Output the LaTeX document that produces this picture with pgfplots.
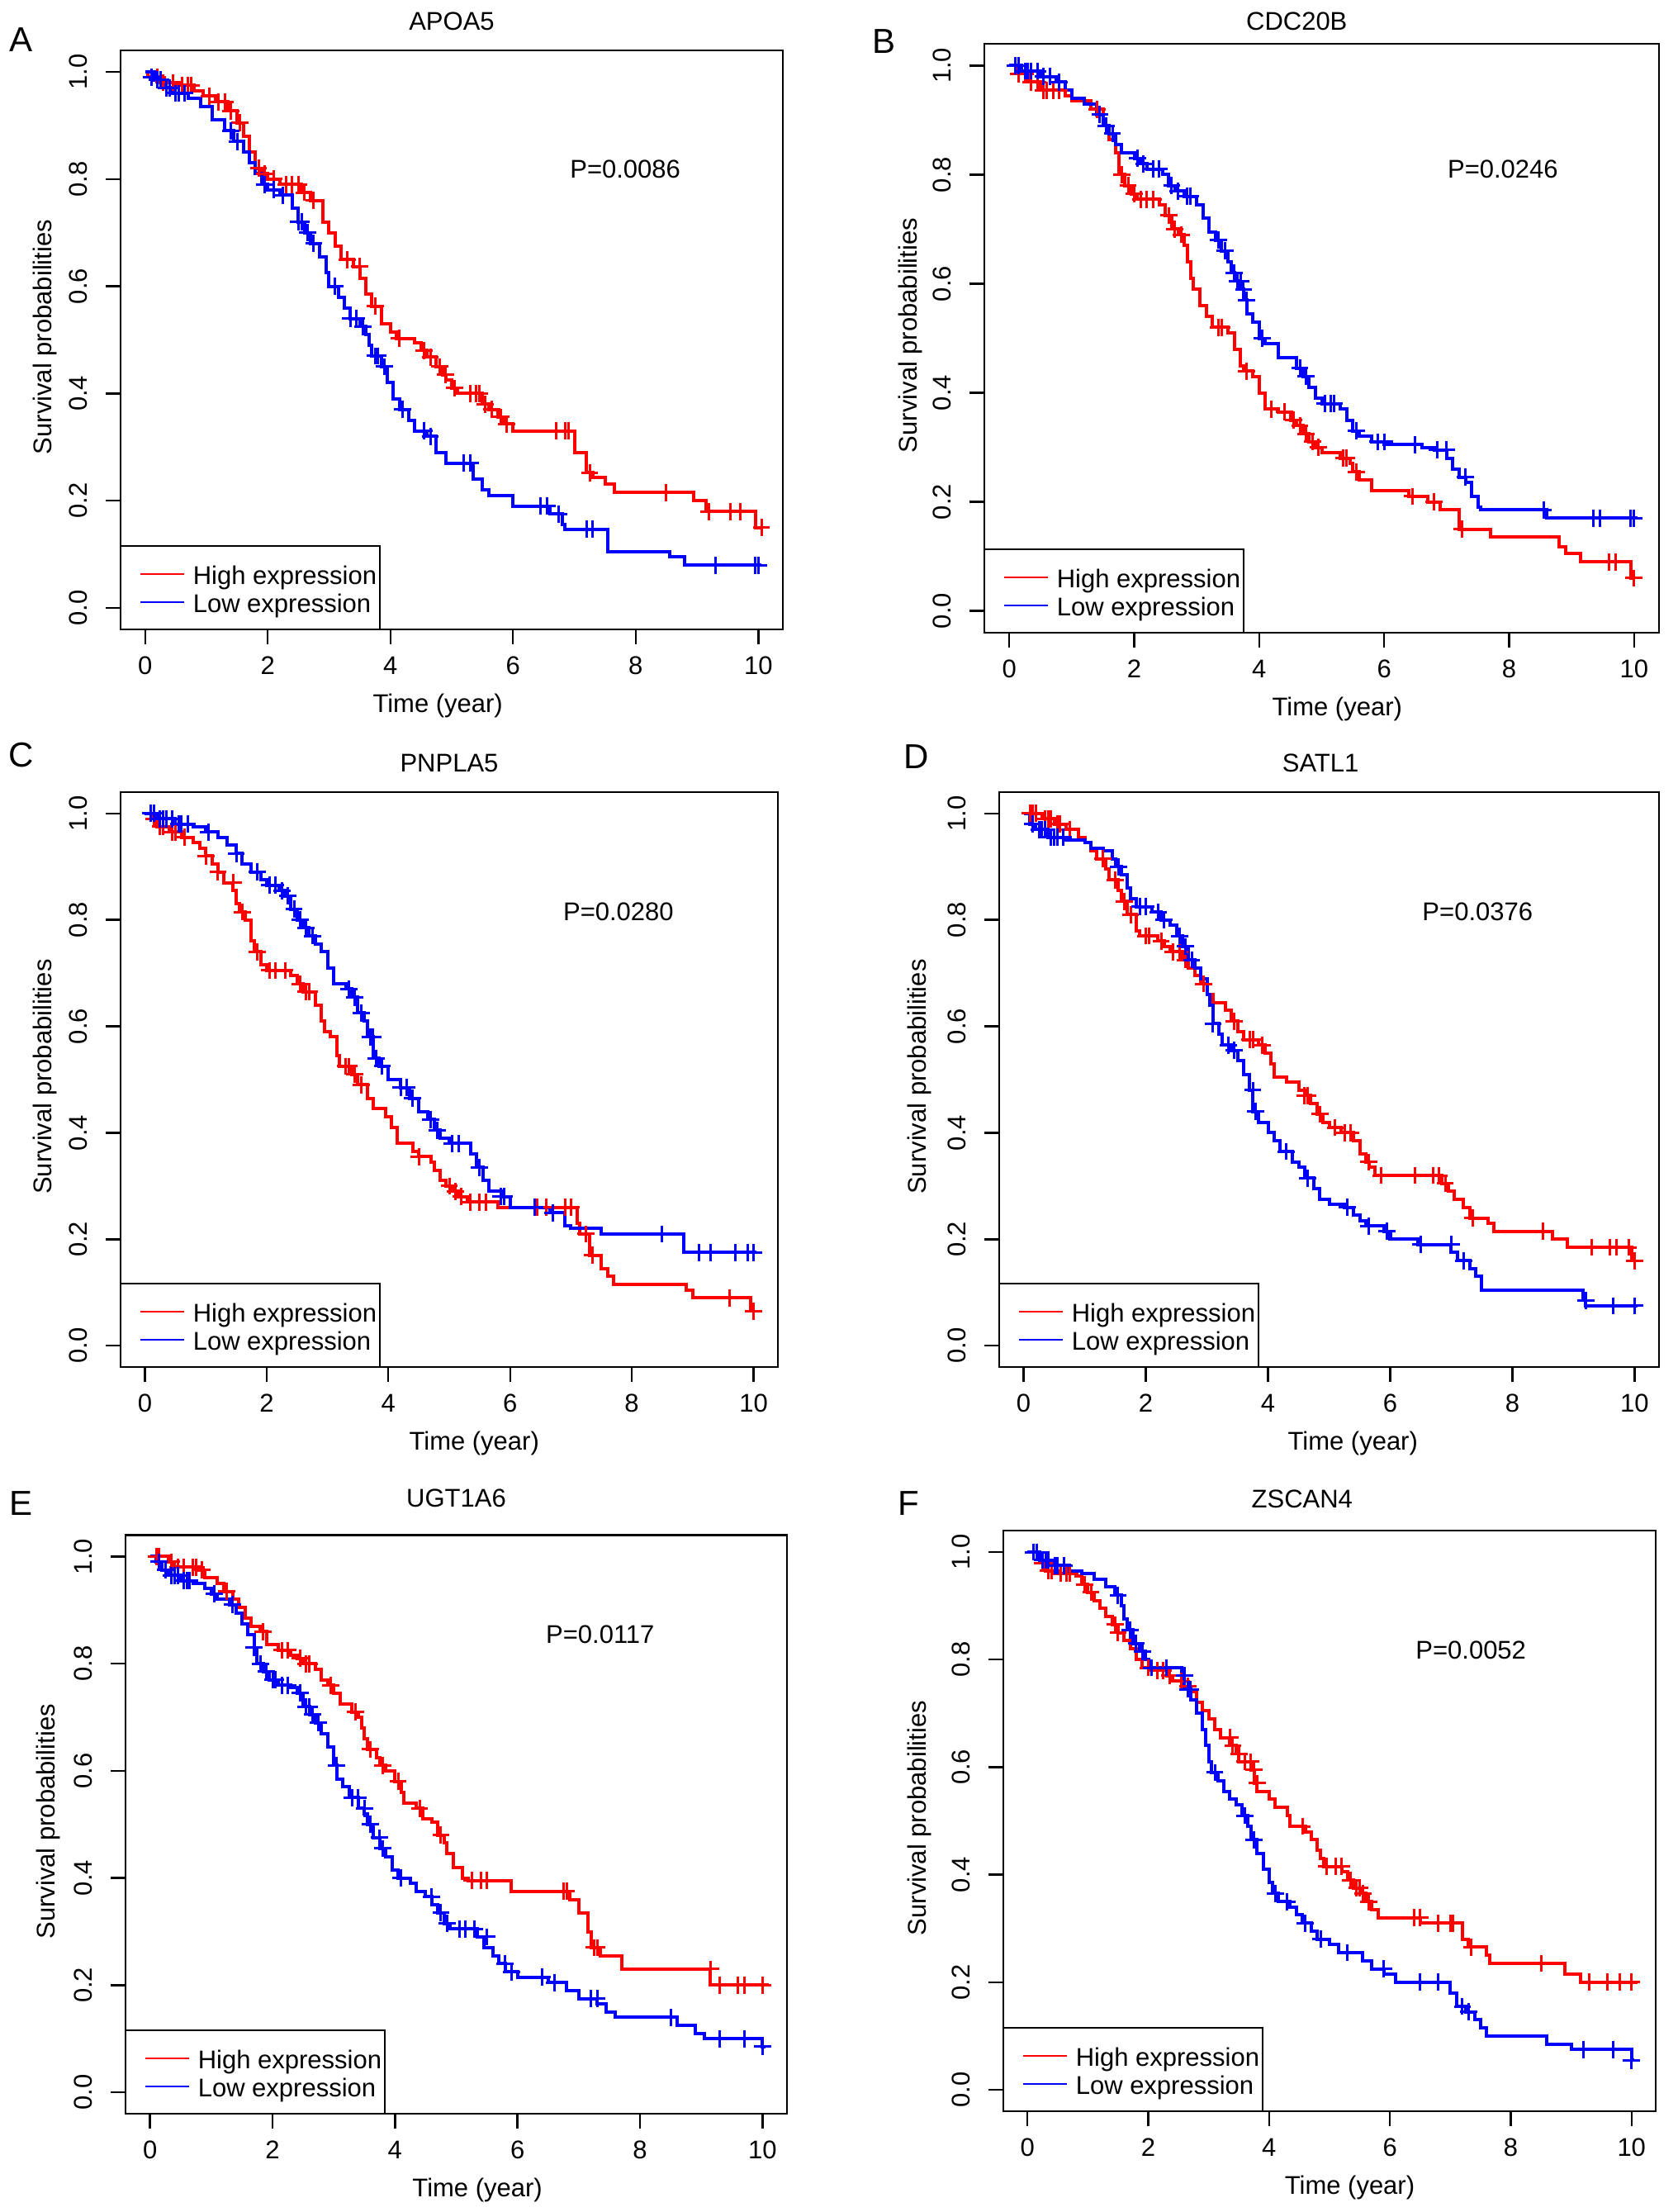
\documentclass[border=0pt]{standalone}
\usepackage{fontspec}
\setmainfont{Liberation Sans}
\usepackage{pgfplots}
\pgfplotsset{compat=1.18}

\newcommand{\kmfont}{\fontsize{7.75}{9.3}\selectfont}
\newcommand{\letterfont}{\fontsize{10.5}{12.6}\selectfont}

% legend box drawn in the lower left corner of each panel
\newcommand{\kmlegend}{%
  \draw[black, line width=0.6pt] (rel axis cs:0,0) rectangle ([xshift=78.5pt,yshift=25.25pt]rel axis cs:0,0);
  \draw[red, line width=0.55pt] ([xshift=6pt,yshift=16.75pt]rel axis cs:0,0) -- ++(13.25pt,0pt);
  \draw[blue, line width=0.55pt] ([xshift=6pt,yshift=8.25pt]rel axis cs:0,0) -- ++(13.25pt,0pt);
  \node[anchor=base west, inner sep=0pt, font=\kmfont] at ([xshift=21.75pt,yshift=13.75pt]rel axis cs:0,0) {High expression};
  \node[anchor=base west, inner sep=0pt, font=\kmfont] at ([xshift=21.75pt,yshift=5.25pt]rel axis cs:0,0) {Low expression};
}

\pgfplotsset{
  km/.style={
    anchor=north west, scale only axis,
    xmin=-0.4, xmax=10.4, ymin=-0.04, ymax=1.04,
    xtick={0,2,4,6,8,10}, ytick={0,0.2,0.4,0.6,0.8,1},
    tick align=outside, tick pos=left, major tick length=4.5pt,
    axis line style={line width=0.6pt, black},
    every tick/.style={black, line width=0.6pt},
    /pgf/number format/assume math mode=true,
    tick label style={font=\kmfont, inner sep=0pt},
    xticklabel style={anchor=north, yshift=-3.5pt},
    yticklabel style={/pgf/number format/fixed, /pgf/number format/fixed zerofill,
      /pgf/number format/precision=1, xshift=-5.25pt, rotate=90, anchor=south},
    xlabel={Time (year)}, ylabel={Survival probabilities},
    every axis x label/.style={at={(axis description cs:0.5,0)}, anchor=base, yshift=-25pt, inner sep=0pt, font=\kmfont},
    every axis title/.style={at={(axis description cs:0.5,1)}, anchor=base, inner sep=0pt, font=\kmfont},
  },
  kmylab/.style={every axis y label/.style={at={(axis description cs:0,0.505)}, xshift=-#1, rotate=90, anchor=base, inner sep=0pt, font=\kmfont}},
  kmline/.style={const plot, no marks, line width=1pt},
  kmcens/.style={only marks, mark=+, mark size=2.6pt, mark options={line width=0.75pt}},
}

\begin{document}
\begin{tikzpicture}
\path[use as bounding box] (0pt,0pt) rectangle (508pt,-669.5pt);

% ---------------- A: APOA5
\begin{axis}[km, kmylab=20.75pt, at={(36.5pt,-15.25pt)}, width=200.5pt, height=175.25pt,
  title={APOA5}, title style={at={(axis description cs:0.5,1)}, yshift=6.25pt},
  xlabel style={at={(axis description cs:0.479,0)}}]
\addplot[kmline, red] coordinates {
(0,1) (0.05,0.99) (0.25,0.98) (0.5,0.975) (0.8,0.965) (0.95,0.955) (1.15,0.944) (1.35,0.927)
(1.5,0.905) (1.6,0.88) (1.7,0.85) (1.8,0.82) (1.9,0.81) (2.0,0.80) (2.2,0.79) (2.55,0.775)
(2.7,0.76) (2.9,0.72) (3.0,0.70) (3.1,0.675) (3.2,0.65) (3.4,0.637) (3.5,0.615) (3.6,0.585)
(3.7,0.563) (3.85,0.53) (4.0,0.515) (4.1,0.503) (4.4,0.494) (4.5,0.48) (4.6,0.468) (4.75,0.45)
(4.85,0.435) (4.9,0.425) (5.0,0.41) (5.1,0.40) (5.5,0.38) (5.6,0.37) (5.75,0.356) (5.85,0.343)
(6.0,0.33) (7.0,0.29) (7.2,0.252) (7.3,0.244) (7.5,0.231) (7.65,0.215) (8.95,0.20) (9.15,0.18)
(9.95,0.15) (10.05,0.15)};
\addplot[kmcens, red] coordinates {
(0.1,0.99) (0.2,0.99) (0.3,0.98) (0.45,0.98) (0.6,0.975) (0.7,0.975) (0.75,0.975) (1.05,0.955)
(1.2,0.944) (1.3,0.944) (1.4,0.927) (1.55,0.905) (1.85,0.82) (1.95,0.81) (2.1,0.80) (2.3,0.79)
(2.4,0.79) (2.5,0.79) (2.6,0.775) (2.75,0.76) (3.3,0.65) (3.5,0.637) (3.75,0.563) (4.15,0.503)
(4.55,0.48) (4.65,0.468) (4.8,0.45) (4.9,0.435) (5.05,0.41) (5.3,0.40) (5.4,0.40) (5.45,0.40)
(5.55,0.38) (5.65,0.37) (5.8,0.356) (5.9,0.343) (6.7,0.33) (6.85,0.33) (6.9,0.33) (7.25,0.252)
(8.5,0.215) (9.2,0.18) (9.55,0.18) (9.7,0.18) (10.05,0.15)};
\addplot[kmline, blue] coordinates {
(0,1) (0.15,0.985) (0.3,0.97) (0.45,0.96) (0.7,0.95) (0.9,0.935) (1.1,0.91) (1.3,0.89)
(1.45,0.87) (1.6,0.85) (1.7,0.83) (1.8,0.81) (1.9,0.79) (2.0,0.78) (2.2,0.77) (2.4,0.745)
(2.5,0.72) (2.6,0.70) (2.7,0.68) (2.85,0.655) (2.95,0.625) (3.0,0.60) (3.15,0.58) (3.25,0.56)
(3.35,0.54) (3.5,0.525) (3.6,0.51) (3.65,0.49) (3.7,0.47) (3.85,0.45) (3.95,0.42) (4.05,0.39)
(4.15,0.37) (4.3,0.35) (4.4,0.33) (4.6,0.32) (4.75,0.29) (4.9,0.27) (5.35,0.24) (5.5,0.22)
(5.6,0.21) (6.0,0.19) (6.6,0.175) (6.8,0.155) (6.85,0.147) (7.55,0.105) (8.55,0.095) (8.8,0.08)
(10.05,0.08)};
\addplot[kmcens, blue] coordinates {
(0.1,0.99) (0.2,0.985) (0.25,0.985) (0.35,0.97) (0.4,0.97) (0.5,0.96) (0.55,0.96) (0.65,0.96)
(1.4,0.89) (1.5,0.87) (1.95,0.79) (2.1,0.78) (2.25,0.77) (2.5,0.72) (2.55,0.72) (2.65,0.70)
(2.75,0.68) (3.1,0.60) (3.35,0.54) (3.45,0.54) (3.55,0.525) (3.75,0.47) (3.8,0.47) (3.9,0.45)
(4.2,0.37) (4.55,0.33) (4.65,0.32) (5.2,0.27) (5.3,0.27) (6.45,0.19) (6.55,0.19) (6.75,0.175)
(7.2,0.147) (7.3,0.147) (9.3,0.08) (9.95,0.08) (10.0,0.08)};
\node[inner sep=0pt, font=\kmfont] at (axis cs:7.83,0.818) {P=0.0086};
\kmlegend
\end{axis}

% ---------------- B: CDC20B
\begin{axis}[km, kmylab=20.5pt, at={(298pt,-13.25pt)}, width=204.25pt, height=178.25pt,
  title={CDC20B}, title style={at={(axis description cs:0.463,1)}, yshift=4.25pt},
  xlabel style={at={(axis description cs:0.523,0)}}]
\addplot[kmline, red] coordinates {
(0,1) (0.1,0.985) (0.3,0.97) (0.5,0.955) (0.9,0.945) (1.0,0.935) (1.3,0.92) (1.5,0.89)
(1.6,0.865) (1.7,0.84) (1.75,0.80) (1.85,0.78) (1.95,0.765) (2.05,0.755) (2.4,0.745) (2.5,0.725)
(2.6,0.70) (2.7,0.69) (2.8,0.67) (2.85,0.64) (2.9,0.61) (2.95,0.59) (3.05,0.56) (3.15,0.54)
(3.25,0.52) (3.5,0.51) (3.6,0.48) (3.7,0.45) (3.75,0.44) (3.9,0.43) (4.0,0.40) (4.1,0.37)
(4.3,0.365) (4.5,0.35) (4.6,0.34) (4.7,0.325) (4.8,0.31) (4.9,0.30) (5.0,0.29) (5.3,0.28)
(5.45,0.27) (5.5,0.255) (5.6,0.24) (5.8,0.22) (6.4,0.21) (6.7,0.20) (6.9,0.185) (7.2,0.15)
(7.7,0.135) (8.8,0.118) (8.9,0.105) (9.15,0.09) (9.95,0.06) (10.0,0.06)};
\addplot[kmcens, red] coordinates {
(0.15,0.985) (0.25,0.985) (0.35,0.97) (0.45,0.97) (0.55,0.955) (0.6,0.955) (0.7,0.955) (0.8,0.955)
(1.4,0.92) (1.8,0.80) (1.9,0.78) (2.0,0.765) (2.1,0.755) (2.2,0.755) (2.3,0.755) (2.55,0.725)
(2.65,0.70) (2.75,0.69) (3.35,0.52) (3.4,0.52) (3.8,0.44) (4.2,0.37) (4.4,0.365) (4.55,0.35)
(4.65,0.34) (4.75,0.325) (4.85,0.31) (4.95,0.30) (5.35,0.28) (5.4,0.28) (5.55,0.255) (6.45,0.21)
(6.8,0.20) (7.25,0.15) (9.6,0.09) (9.7,0.09) (10.0,0.06)};
\addplot[kmline, blue] coordinates {
(0,1) (0.2,0.99) (0.5,0.98) (0.75,0.97) (0.9,0.955) (1.0,0.94) (1.2,0.93) (1.4,0.91)
(1.5,0.89) (1.6,0.875) (1.7,0.855) (1.8,0.84) (2.0,0.83) (2.1,0.82) (2.2,0.81) (2.45,0.80)
(2.55,0.78) (2.65,0.77) (2.8,0.76) (3.0,0.745) (3.1,0.72) (3.2,0.695) (3.3,0.68) (3.4,0.66)
(3.5,0.64) (3.55,0.62) (3.6,0.605) (3.7,0.59) (3.75,0.57) (3.8,0.545) (3.9,0.53) (4.0,0.50)
(4.1,0.49) (4.3,0.465) (4.6,0.445) (4.7,0.43) (4.8,0.41) (4.9,0.39) (5.0,0.38) (5.3,0.37)
(5.4,0.35) (5.5,0.33) (5.6,0.32) (5.8,0.31) (6.0,0.305) (6.6,0.30) (6.8,0.295) (7.0,0.28)
(7.1,0.26) (7.2,0.245) (7.3,0.235) (7.4,0.21) (7.5,0.19) (7.55,0.185) (8.6,0.17) (10.05,0.17)};
\addplot[kmcens, blue] coordinates {
(0.1,1.0) (0.15,1.0) (0.25,0.99) (0.3,0.99) (0.35,0.99) (0.45,0.99) (0.55,0.98) (0.65,0.98)
(0.8,0.97) (1.45,0.91) (1.55,0.89) (1.65,0.875) (2.05,0.83) (2.15,0.82) (2.3,0.81) (2.4,0.81)
(2.6,0.78) (2.7,0.77) (2.85,0.76) (2.9,0.76) (3.35,0.68) (3.45,0.66) (3.6,0.62) (3.65,0.605)
(3.7,0.605) (3.75,0.59) (3.8,0.57) (4.05,0.50) (4.65,0.445) (4.75,0.43) (5.05,0.38) (5.15,0.38)
(5.2,0.38) (5.55,0.33) (5.9,0.31) (6.0,0.31) (6.5,0.305) (6.85,0.295) (7.0,0.295) (7.3,0.245)
(8.55,0.185) (9.35,0.17) (9.45,0.17) (9.95,0.17) (10.0,0.17)};
\node[inner sep=0pt, font=\kmfont] at (axis cs:7.90,0.81) {P=0.0246};
\kmlegend
\end{axis}

% ---------------- C: PNPLA5
\begin{axis}[km, kmylab=20.75pt, at={(36.5pt,-239.75pt)}, width=199pt, height=174pt,
  title={PNPLA5}, title style={at={(axis description cs:0.5,1)}, yshift=6.25pt},
  xlabel style={at={(axis description cs:0.538,0)}}]
\addplot[kmline, red] coordinates {
(0,1) (0.1,0.99) (0.2,0.975) (0.4,0.965) (0.6,0.955) (0.8,0.945) (0.9,0.935) (1.0,0.92)
(1.1,0.905) (1.2,0.89) (1.3,0.87) (1.45,0.855) (1.5,0.83) (1.55,0.815) (1.65,0.80) (1.75,0.76)
(1.8,0.74) (1.9,0.715) (2.0,0.705) (2.4,0.695) (2.5,0.68) (2.6,0.665) (2.8,0.64) (2.9,0.61)
(2.95,0.59) (3.05,0.58) (3.15,0.545) (3.2,0.525) (3.4,0.51) (3.5,0.49) (3.65,0.465) (3.75,0.445)
(3.95,0.43) (4.05,0.41) (4.15,0.38) (4.4,0.365) (4.5,0.355) (4.7,0.345) (4.75,0.33) (4.85,0.31)
(4.95,0.30) (5.05,0.29) (5.15,0.28) (5.3,0.27) (5.8,0.26) (7.1,0.23) (7.15,0.21) (7.3,0.17)
(7.5,0.145) (7.6,0.13) (7.7,0.115) (8.9,0.105) (9.0,0.09) (9.95,0.065) (10.0,0.065)};
\addplot[kmcens, red] coordinates {
(0.15,0.99) (0.25,0.975) (0.3,0.975) (0.45,0.965) (0.5,0.965) (0.65,0.955) (1.0,0.92) (1.2,0.89)
(1.45,0.87) (1.6,0.815) (1.85,0.74) (2.05,0.705) (2.15,0.705) (2.3,0.705) (2.55,0.68) (2.65,0.665)
(2.7,0.665) (3.3,0.525) (3.35,0.525) (3.45,0.51) (3.55,0.49) (4.5,0.355) (5.0,0.30) (5.1,0.29)
(5.2,0.28) (5.35,0.27) (5.5,0.27) (5.6,0.27) (6.45,0.26) (6.6,0.26) (6.9,0.26) (7.0,0.26)
(7.25,0.21) (7.35,0.17) (9.6,0.09) (10.0,0.065)};
\addplot[kmline, blue] coordinates {
(0,1) (0.2,0.99) (0.5,0.98) (0.8,0.975) (1.0,0.965) (1.2,0.955) (1.35,0.94) (1.5,0.925)
(1.6,0.905) (1.75,0.89) (1.9,0.875) (2.0,0.865) (2.2,0.855) (2.3,0.845) (2.4,0.82) (2.5,0.80)
(2.6,0.785) (2.7,0.77) (2.8,0.755) (2.9,0.74) (3.0,0.71) (3.1,0.68) (3.3,0.67) (3.4,0.655)
(3.5,0.625) (3.6,0.61) (3.65,0.58) (3.75,0.54) (3.85,0.525) (4.0,0.50) (4.2,0.485) (4.35,0.465)
(4.5,0.44) (4.65,0.425) (4.75,0.405) (4.85,0.39) (5.0,0.38) (5.35,0.36) (5.45,0.335) (5.55,0.31)
(5.65,0.29) (5.85,0.28) (6.0,0.26) (6.65,0.25) (6.9,0.225) (7.0,0.22) (7.5,0.21) (8.85,0.175)
(10.05,0.175)};
\addplot[kmcens, blue] coordinates {
(0.1,1.0) (0.15,1.0) (0.25,0.99) (0.3,0.99) (0.35,0.99) (0.45,0.99) (0.55,0.98) (0.6,0.98)
(0.7,0.98) (1.05,0.965) (1.5,0.925) (1.85,0.89) (2.05,0.865) (2.15,0.865) (2.25,0.855) (2.35,0.845)
(2.45,0.82) (2.55,0.80) (2.65,0.785) (2.75,0.77) (3.35,0.67) (3.45,0.655) (3.55,0.625) (3.7,0.58)
(3.75,0.58) (3.8,0.54) (3.9,0.525) (4.2,0.485) (4.3,0.485) (4.4,0.465) (4.7,0.425) (4.8,0.405)
(5.05,0.38) (5.15,0.38) (5.5,0.335) (5.85,0.28) (5.9,0.28) (6.4,0.26) (6.7,0.25) (8.5,0.21)
(9.1,0.175) (9.3,0.175) (9.7,0.175) (9.9,0.175) (10.0,0.175)};
\node[inner sep=0pt, font=\kmfont] at (axis cs:7.78,0.815) {P=0.0280};
\kmlegend
\end{axis}

% ---------------- D: SATL1
\begin{axis}[km, kmylab=22.25pt, at={(302.5pt,-239.75pt)}, width=199.75pt, height=174pt,
  title={SATL1}, title style={at={(axis description cs:0.487,1)}, yshift=6.25pt},
  xlabel style={at={(axis description cs:0.536,0)}}]
\addplot[kmline, red] coordinates {
(0,1) (0.3,0.99) (0.5,0.98) (0.7,0.97) (0.9,0.955) (1.0,0.945) (1.1,0.93) (1.2,0.915)
(1.35,0.895) (1.4,0.875) (1.55,0.855) (1.6,0.835) (1.7,0.81) (1.85,0.78) (1.9,0.77) (2.2,0.76)
(2.3,0.75) (2.4,0.74) (2.6,0.725) (2.7,0.71) (2.8,0.695) (2.9,0.68) (3.0,0.66) (3.1,0.645)
(3.3,0.63) (3.4,0.61) (3.5,0.59) (3.6,0.575) (3.85,0.565) (3.95,0.55) (4.05,0.53) (4.1,0.505)
(4.3,0.495) (4.5,0.48) (4.6,0.47) (4.7,0.455) (4.8,0.435) (4.9,0.42) (5.0,0.41) (5.2,0.40)
(5.4,0.385) (5.5,0.36) (5.6,0.345) (5.65,0.335) (5.75,0.32) (6.85,0.305) (6.95,0.29) (7.05,0.275)
(7.2,0.26) (7.3,0.24) (7.6,0.23) (7.7,0.215) (8.65,0.20) (8.9,0.185) (9.95,0.16) (10.0,0.16)};
\addplot[kmcens, red] coordinates {
(0.1,1.0) (0.15,1.0) (0.2,1.0) (0.35,0.99) (0.4,0.99) (0.45,0.99) (0.55,0.98) (0.6,0.98)
(0.75,0.97) (1.3,0.915) (1.5,0.875) (1.65,0.835) (1.75,0.81) (2.0,0.77) (2.05,0.77) (2.25,0.76)
(2.45,0.74) (2.55,0.74) (2.65,0.725) (2.95,0.68) (3.45,0.61) (3.7,0.575) (3.75,0.575) (3.9,0.565)
(4.6,0.47) (4.65,0.47) (4.85,0.435) (5.1,0.41) (5.25,0.40) (5.35,0.40) (5.65,0.345) (5.85,0.32)
(6.4,0.32) (6.7,0.32) (6.8,0.32) (6.9,0.305) (7.35,0.24) (8.5,0.215) (9.3,0.185) (9.6,0.185)
(9.7,0.185) (9.9,0.185) (10.0,0.16)};
\addplot[kmline, blue] coordinates {
(0,1) (0.1,0.98) (0.2,0.97) (0.4,0.955) (0.7,0.95) (1.0,0.945) (1.1,0.935) (1.3,0.93)
(1.45,0.915) (1.5,0.90) (1.6,0.885) (1.7,0.86) (1.75,0.84) (1.85,0.825) (2.1,0.815) (2.25,0.80)
(2.4,0.79) (2.5,0.77) (2.6,0.75) (2.7,0.725) (2.8,0.71) (2.9,0.69) (3.0,0.66) (3.05,0.64)
(3.1,0.605) (3.2,0.585) (3.25,0.565) (3.4,0.555) (3.5,0.535) (3.6,0.51) (3.7,0.48) (3.75,0.44)
(3.85,0.42) (4.0,0.40) (4.1,0.385) (4.2,0.365) (4.4,0.345) (4.5,0.335) (4.6,0.315) (4.75,0.295)
(4.85,0.275) (5.0,0.265) (5.25,0.26) (5.4,0.245) (5.5,0.235) (5.6,0.225) (5.9,0.215) (6.0,0.20)
(6.45,0.19) (7.0,0.175) (7.1,0.16) (7.3,0.145) (7.4,0.13) (7.5,0.105) (9.15,0.085) (9.2,0.075)
(10.05,0.075)};
\addplot[kmcens, blue] coordinates {
(0.15,0.98) (0.25,0.97) (0.3,0.97) (0.35,0.97) (0.45,0.955) (0.5,0.955) (0.55,0.955) (0.65,0.955)
(1.55,0.90) (1.9,0.825) (2.0,0.825) (2.2,0.815) (2.3,0.80) (2.55,0.77) (2.65,0.75) (2.75,0.725)
(3.1,0.605) (3.35,0.565) (3.45,0.555) (3.75,0.48) (3.8,0.44) (4.3,0.365) (4.65,0.315) (5.3,0.26)
(5.65,0.225) (5.95,0.215) (6.5,0.19) (7.0,0.19) (7.2,0.16) (9.2,0.085) (9.65,0.075) (10.0,0.075)};
\node[inner sep=0pt, font=\kmfont] at (axis cs:7.43,0.815) {P=0.0376};
\kmlegend
\end{axis}

% ---------------- E: UGT1A6
\begin{axis}[km, kmylab=21.25pt, at={(38pt,-464.625pt)}, width=200.25pt, height=175.125pt,
  title={UGT1A6}, title style={at={(axis description cs:0.5,1)}, yshift=8.4pt},
  xlabel style={at={(axis description cs:0.532,0)}}]
\addplot[kmline, red] coordinates {
(0,1) (0.3,0.99) (0.4,0.98) (0.8,0.975) (0.9,0.96) (1.1,0.95) (1.2,0.935) (1.35,0.92)
(1.45,0.905) (1.55,0.885) (1.65,0.87) (1.8,0.86) (1.9,0.835) (2.1,0.825) (2.3,0.815) (2.4,0.81)
(2.5,0.80) (2.7,0.79) (2.8,0.77) (2.9,0.76) (3.0,0.745) (3.1,0.725) (3.3,0.71) (3.4,0.70)
(3.45,0.68) (3.5,0.66) (3.55,0.64) (3.7,0.625) (3.75,0.61) (3.85,0.60) (4.0,0.58) (4.1,0.56)
(4.15,0.54) (4.35,0.53) (4.45,0.51) (4.6,0.505) (4.7,0.48) (4.8,0.465) (4.85,0.445) (4.95,0.42)
(5.1,0.40) (5.2,0.395) (5.9,0.375) (6.85,0.36) (7.0,0.335) (7.15,0.30) (7.2,0.27) (7.35,0.255)
(7.7,0.23) (9.15,0.20) (10.1,0.20)};
\addplot[kmcens, red] coordinates {
(0.1,1.0) (0.15,1.0) (0.35,0.99) (0.45,0.98) (0.55,0.98) (0.7,0.98) (0.75,0.98) (0.85,0.975)
(1.25,0.935) (1.85,0.86) (2.15,0.825) (2.25,0.825) (2.45,0.81) (2.55,0.80) (2.6,0.80) (2.95,0.76)
(3.35,0.71) (3.6,0.64) (3.8,0.61) (4.05,0.58) (4.4,0.53) (4.75,0.48) (5.25,0.395) (5.4,0.395)
(5.5,0.395) (6.75,0.375) (6.8,0.375) (7.25,0.27) (7.3,0.27) (9.15,0.23) (9.3,0.20) (9.6,0.20)
(9.7,0.20) (10.0,0.20)};
\addplot[kmline, blue] coordinates {
(0,1) (0.1,0.99) (0.2,0.975) (0.3,0.965) (0.5,0.955) (0.7,0.95) (0.9,0.94) (1.0,0.93)
(1.1,0.92) (1.3,0.91) (1.4,0.895) (1.5,0.875) (1.6,0.855) (1.7,0.83) (1.75,0.80) (1.85,0.785)
(1.95,0.77) (2.1,0.76) (2.3,0.755) (2.4,0.745) (2.5,0.72) (2.6,0.705) (2.7,0.69) (2.8,0.67)
(2.9,0.645) (3.0,0.61) (3.05,0.585) (3.15,0.57) (3.25,0.55) (3.4,0.53) (3.5,0.52) (3.55,0.50)
(3.65,0.475) (3.75,0.455) (3.85,0.44) (3.95,0.415) (4.05,0.40) (4.25,0.39) (4.35,0.375) (4.5,0.365)
(4.6,0.35) (4.7,0.335) (4.8,0.315) (4.9,0.305) (5.35,0.29) (5.45,0.27) (5.6,0.255) (5.7,0.24)
(5.8,0.225) (6.0,0.215) (6.5,0.205) (6.8,0.19) (7.0,0.175) (7.3,0.165) (7.45,0.15) (7.6,0.14)
(8.6,0.125) (8.9,0.11) (9.05,0.10) (10.0,0.085) (10.05,0.085)};
\addplot[kmcens, blue] coordinates {
(0.15,0.99) (0.25,0.975) (0.35,0.965) (0.4,0.965) (0.45,0.965) (0.55,0.955) (0.6,0.955) (0.65,0.955)
(1.05,0.93) (1.35,0.91) (1.7,0.83) (1.8,0.80) (1.9,0.785) (2.0,0.77) (2.05,0.77) (2.15,0.76)
(2.25,0.76) (2.45,0.745) (2.55,0.72) (2.6,0.72) (2.65,0.705) (2.75,0.69) (3.05,0.61) (3.3,0.55)
(3.4,0.55) (3.5,0.53) (3.6,0.50) (3.75,0.475) (3.8,0.455) (4.1,0.40) (4.6,0.365) (4.75,0.335)
(4.85,0.315) (5.05,0.305) (5.15,0.305) (5.3,0.305) (5.5,0.29) (5.8,0.24) (5.9,0.225) (6.4,0.215)
(6.6,0.205) (7.2,0.175) (7.3,0.175) (8.5,0.14) (9.3,0.10) (9.7,0.10) (10.0,0.085)};
\node[inner sep=0pt, font=\kmfont] at (axis cs:7.35,0.854) {P=0.0117};
\kmlegend
\end{axis}

% ---------------- F: ZSCAN4
\begin{axis}[km, kmylab=23.5pt, at={(303.75pt,-463.25pt)}, width=197.5pt, height=175.75pt,
  title={ZSCAN4}, title style={at={(axis description cs:0.458,1)}, yshift=7pt},
  xlabel style={at={(axis description cs:0.531,0)}}]
\addplot[kmline, red] coordinates {
(0,1) (0.2,0.98) (0.3,0.965) (0.5,0.96) (0.8,0.955) (0.9,0.94) (1.0,0.925) (1.1,0.91)
(1.2,0.895) (1.3,0.88) (1.4,0.865) (1.5,0.85) (1.6,0.835) (1.7,0.82) (1.8,0.80) (1.9,0.785)
(2.1,0.78) (2.3,0.77) (2.4,0.76) (2.6,0.75) (2.7,0.74) (2.8,0.72) (2.9,0.705) (3.0,0.69)
(3.1,0.67) (3.2,0.655) (3.35,0.64) (3.45,0.625) (3.5,0.61) (3.7,0.595) (3.75,0.57) (3.8,0.555)
(4.0,0.54) (4.1,0.525) (4.3,0.51) (4.35,0.49) (4.6,0.48) (4.7,0.465) (4.8,0.445) (4.85,0.43)
(4.9,0.415) (5.2,0.405) (5.3,0.39) (5.4,0.375) (5.5,0.365) (5.6,0.35) (5.7,0.335) (5.8,0.32)
(6.5,0.31) (7.2,0.28) (7.3,0.265) (7.6,0.25) (7.65,0.235) (8.9,0.215) (9.15,0.20) (10.1,0.20)};
\addplot[kmcens, red] coordinates {
(0.1,1.0) (0.15,1.0) (0.25,0.98) (0.35,0.965) (0.4,0.965) (0.55,0.96) (0.65,0.96) (0.7,0.96)
(0.95,0.94) (1.05,0.925) (1.45,0.865) (1.5,0.85) (2.0,0.785) (2.15,0.78) (2.25,0.78) (2.35,0.77)
(2.55,0.76) (2.65,0.75) (3.35,0.655) (3.4,0.64) (3.5,0.625) (3.6,0.61) (3.7,0.61) (3.75,0.595)
(3.8,0.57) (4.55,0.49) (4.95,0.415) (5.1,0.415) (5.2,0.415) (5.35,0.39) (5.45,0.375) (5.5,0.375)
(5.55,0.365) (5.65,0.35) (6.4,0.32) (6.5,0.32) (6.8,0.31) (7.0,0.31) (7.05,0.31) (7.35,0.265)
(8.5,0.235) (9.3,0.20) (9.6,0.20) (9.8,0.20) (10.0,0.20)};
\addplot[kmline, blue] coordinates {
(0,1) (0.2,0.985) (0.4,0.975) (0.7,0.965) (0.9,0.96) (1.1,0.95) (1.3,0.935) (1.45,0.92)
(1.55,0.90) (1.6,0.875) (1.65,0.855) (1.75,0.83) (1.85,0.815) (1.95,0.80) (2.0,0.785) (2.55,0.77)
(2.6,0.745) (2.7,0.725) (2.8,0.70) (2.9,0.67) (2.95,0.64) (3.0,0.61) (3.05,0.59) (3.15,0.575)
(3.25,0.555) (3.35,0.54) (3.45,0.53) (3.55,0.51) (3.65,0.49) (3.7,0.465) (3.8,0.44) (3.9,0.41)
(4.0,0.385) (4.05,0.365) (4.15,0.35) (4.35,0.34) (4.45,0.325) (4.55,0.31) (4.7,0.295) (4.8,0.28)
(5.0,0.27) (5.15,0.255) (5.55,0.24) (5.7,0.225) (5.9,0.215) (6.1,0.20) (7.0,0.18) (7.1,0.155)
(7.25,0.145) (7.4,0.13) (7.5,0.115) (7.6,0.10) (8.6,0.085) (9.0,0.075) (10.0,0.055) (10.05,0.055)};
\addplot[kmcens, blue] coordinates {
(0.1,1.0) (0.15,1.0) (0.25,0.985) (0.3,0.985) (0.35,0.985) (0.45,0.975) (0.5,0.975) (0.6,0.975)
(1.5,0.92) (1.7,0.855) (1.8,0.83) (1.9,0.815) (2.05,0.785) (2.3,0.785) (2.6,0.77) (2.65,0.745)
(2.7,0.745) (3.1,0.59) (3.6,0.51) (3.75,0.465) (4.1,0.365) (4.3,0.35) (4.6,0.31) (4.85,0.28)
(5.3,0.255) (5.9,0.225) (6.5,0.20) (6.8,0.20) (7.2,0.155) (7.3,0.145) (9.2,0.075) (9.7,0.075)
(10.0,0.055)};
\node[inner sep=0pt, font=\kmfont] at (axis cs:7.34,0.817) {P=0.0052};
\kmlegend
\end{axis}

% panel letters
\node[inner sep=0pt, font=\letterfont] at (6.5pt,-12pt) {A};
\node[inner sep=0pt, font=\letterfont] at (267.5pt,-12.4pt) {B};
\node[inner sep=0pt, font=\letterfont] at (6.5pt,-228.5pt) {C};
\node[inner sep=0pt, font=\letterfont] at (277.5pt,-228.9pt) {D};
\node[inner sep=0pt, font=\letterfont] at (6.5pt,-455pt) {E};
\node[inner sep=0pt, font=\letterfont] at (275pt,-455pt) {F};
\end{tikzpicture}
\end{document}
